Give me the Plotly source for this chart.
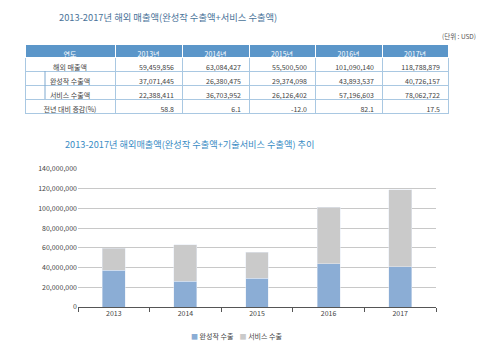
import plotly.graph_objects as go

years = ["2013", "2014", "2015", "2016", "2017"]
total_sales = [59459856, 63084427, 55500500, 101090140, 118788879]
product_exports = [37071445, 26380475, 29374098, 43893537, 40726157]
service_exports = [22388411, 36703952, 26126402, 57196603, 78062722]
yoy_change = ["58.8", "6.1", "-12.0", "82.1", "17.5"]
row_labels = ["해외 매출액", "완성작 수출액", "서비스 수출액", "전년 대비 증감(%)"]
header_first = "연도"
series_names = ["완성작 수출", "서비스 수출"]
series_colors = ["#8badd5", "#cacaca"]

W, H = 480, 356
FONT = "Noto Sans CJK KR"

def fmt(v):
    return f"{v:,}"

header_vals = [header_first] + [y + "년" for y in years]
cols = [row_labels]
for i in range(len(years)):
    cols.append([fmt(total_sales[i]), fmt(product_exports[i]), fmt(service_exports[i]), yoy_change[i]])

fig = go.Figure()

fig.add_trace(go.Table(
    domain=dict(x=[25 / W, 448 / W], y=[1 - 125 / H, 1 - 44 / H]),
    columnwidth=[90, 67, 67, 66, 67, 66],
    header=dict(values=header_vals, fill_color="#5b96c9", line_color="#ffffff",
                font=dict(family=FONT, size=7, color="white"), align="center", height=13),
    cells=dict(values=cols, fill_color="white", line_color="#a9c8e2",
               font=dict(family=FONT, size=7, color="#444"),
               align=["center", "right", "right", "right", "right", "right"], height=14),
))

for vals, name, col in [(product_exports, series_names[0], series_colors[0]),
                        (service_exports, series_names[1], series_colors[1])]:
    fig.add_trace(go.Bar(x=years, y=vals, name=name, marker_color=col, width=0.32,
                         showlegend=False, xaxis="x", yaxis="y"))

legend_text = "&nbsp;&nbsp;&nbsp;&nbsp;".join(
    f"<span style='color:{c}'>■</span> {n}" for n, c in zip(series_names, series_colors))

fig.update_layout(
    width=W, height=H, margin=dict(l=0, r=0, t=0, b=0),
    paper_bgcolor="white", plot_bgcolor="white", barmode="stack",
    font=dict(family=FONT, color="#444"),
    xaxis=dict(domain=[78 / W, 436 / W], type="category", showgrid=False, showline=True,
               linecolor="#555", linewidth=1, ticks="outside", tickson="boundaries", ticklen=4,
               tickcolor="#555", tickfont=dict(size=7, color="#444"), anchor="y",
               automargin=False, categoryorder="array", categoryarray=years),
    yaxis=dict(domain=[1 - 307 / H, 1 - 169 / H], range=[0, 140000000], dtick=20000000,
               tickformat=",d", showgrid=True, gridcolor="#c8c8c8", gridwidth=1, zeroline=False,
               showline=False, tickfont=dict(size=7, color="#444"), ticks="", anchor="x",
               automargin=False),
    showlegend=False,
    shapes=[
        dict(type="line", xref="paper", yref="paper", x0=45 / W, x1=45 / W,
             y0=1 - 99 / H, y1=1 - 71 / H, line=dict(color="#7fa9cf", width=1)),
    ],
    annotations=[
        dict(text="2013-2017년 해외 매출액(완성작 수출액+서비스 수출액)", x=57 / W, y=1 - 17 / H,
             xref="paper", yref="paper", xanchor="left", yanchor="middle", showarrow=False,
             font=dict(family=FONT, size=9.3, color="#4a7399")),
        dict(text="(단위 : USD)", x=478 / W, y=1 - 36 / H, xref="paper", yref="paper",
             xanchor="right", yanchor="middle", showarrow=False,
             font=dict(family=FONT, size=6.5, color="#555")),
        dict(text="2013-2017년 해외매출액(완성작 수출액+기술서비스 수출액) 추이", x=63 / W, y=1 - 144 / H,
             xref="paper", yref="paper", xanchor="left", yanchor="middle", showarrow=False,
             font=dict(family=FONT, size=9.2, color="#3a8cc4")),
        dict(text=legend_text, x=237 / W, y=1 - 336 / H, xref="paper", yref="paper",
             xanchor="center", yanchor="middle", showarrow=False,
             font=dict(family=FONT, size=7, color="#444")),
    ],
)

fig.write_html("out.html", config={"displayModeBar": False},
               post_script="document.body.style.margin='0';")
